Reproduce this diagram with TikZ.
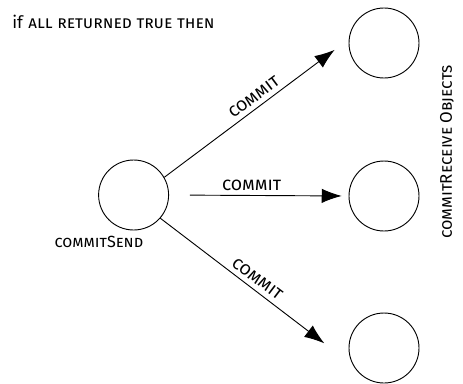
\documentclass[tikz,border=0pt]{standalone}
\usepackage{fontspec}
\setmainfont{Fira Sans}
\usetikzlibrary{arrows.meta}

\begin{document}
\begin{tikzpicture}[scale=1,
    obj/.style={draw,circle,minimum size=1.75cm,line width=0.65pt},
    msg/.style={-{Latex[length=0.5cm,width=0.36cm]},line width=0.65pt}]
        \useasboundingbox (0,0) rectangle (11.575,-9.575);
        % Define the nodes
        \node[obj] (send)  at (3.34,-4.875) {};
        \node[obj] (recvA) at (9.6,-1.075) {};
        \node[obj] (recvB) at (9.6,-4.9) {};
        \node[obj] (recvC) at (9.6,-8.7) {};
        \node[anchor=west,inner sep=0pt] (cond) at (0.3,-0.55) {\fontsize{12.2}{15}\selectfont if \textsc{all returned true then}};
        \node (sendlbl) at (2.475,-6.05) {\fontsize{11.5}{14}\selectfont\textsc{commitSend}};
        \node[rotate=90] (recvlbl) at (11.175,-3.8) {\fontsize{12}{14}\selectfont\textsc{commitReceive Objects}};
        % Connect the nodes
        \draw[msg,shorten >=0.44cm] (send.30) -- (recvA.174)
            node[pos=0.52,above,sloped] {\fontsize{13}{15}\selectfont\textsc{commit}};
        \draw[msg,shorten <=0.52cm,shorten >=0.17cm] (send.east) -- (recvB.west)
            node[pos=0.46,above] {\fontsize{13}{15}\selectfont\textsc{commit}};
        \draw[msg,shorten >=0.9cm] (send.-41) -- (recvC.209)
            node[pos=0.47,above,sloped] {\fontsize{13}{15}\selectfont\textsc{commit}};
    \end{tikzpicture}
\end{document}
